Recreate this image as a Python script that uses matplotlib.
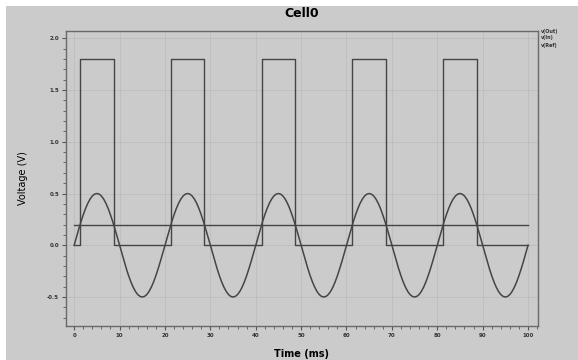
import numpy as np
import matplotlib
matplotlib.use('Agg')
from matplotlib import pyplot as plt
from matplotlib.patches import Rectangle
from matplotlib.ticker import MultipleLocator, FormatStrFormatter

# input sine, one 20 ms period sampled every 0.5 ms (V); it repeats 5 times
period_in = [
    0.000, 0.078, 0.155, 0.227, 0.294, 0.354, 0.405, 0.446, 0.476, 0.494,
    0.500, 0.494, 0.476, 0.446, 0.405, 0.354, 0.294, 0.227, 0.155, 0.078,
    0.000, -0.078, -0.155, -0.227, -0.294, -0.354, -0.405, -0.446, -0.476, -0.494,
    -0.500, -0.494, -0.476, -0.446, -0.405, -0.354, -0.294, -0.227, -0.155, -0.078,
]
v_in = period_in * 5 + [0.0]
t_in = np.arange(len(v_in)) * 0.5

# comparator output: edges of the 1.8 V pulses (ms)
rise_times = [1.3, 21.3, 41.3, 61.3, 81.3]
fall_times = [8.7, 28.7, 48.7, 68.7, 88.7]
v_high = 1.8
v_low = 0.0

# reference level
t_ref = [0, 100]
v_ref = [0.2, 0.2]

legend_labels = ['v(Out)', 'v(In)', 'v(Ref)']

# build step trace for the output
t_out = [0]
v_out = [v_low]
for r, f in zip(rise_times, fall_times):
    t_out += [r, r, f, f]
    v_out += [v_low, v_high, v_high, v_low]
t_out.append(100)
v_out.append(v_low)

bg = '#cbcbcb'
line_c = '#454545'

fig = plt.figure(figsize=(5.78, 3.6), dpi=100, facecolor=bg)
# thin white strips on the top and left edges
fig.patches.append(Rectangle((0, 354 / 360), 1, 6 / 360, transform=fig.transFigure,
                             facecolor='white', edgecolor='none', zorder=-10))
fig.patches.append(Rectangle((0, 0), 6 / 578, 1, transform=fig.transFigure,
                             facecolor='white', edgecolor='none', zorder=-10))

ax = fig.add_axes([66 / 578, 34 / 360, 472 / 578, 295 / 360])
ax.set_facecolor(bg)

ax.plot(t_out, v_out, color=line_c, lw=1.0)
ax.plot(t_in, v_in, color=line_c, lw=1.1)
ax.plot(t_ref, v_ref, color=line_c, lw=1.0)

ax.set_xlim(-1.8, 102.2)
ax.set_ylim(-0.78, 2.07)

ax.xaxis.set_major_locator(MultipleLocator(10))
ax.xaxis.set_minor_locator(MultipleLocator(2))
ax.yaxis.set_major_locator(MultipleLocator(0.5))
ax.yaxis.set_minor_locator(MultipleLocator(0.1))
ax.yaxis.set_major_formatter(FormatStrFormatter('%.1f'))

ax.tick_params(which='major', length=3, width=0.8, color='#555555',
               labelsize=4, pad=2)
ax.tick_params(which='minor', length=2, width=0.6, color='#555555')
for lab in ax.get_xticklabels() + ax.get_yticklabels():
    lab.set_fontweight('bold')
    lab.set_color('#333333')

ax.grid(True, which='major', color='#bdbdbd', lw=0.6)

for side in ['top', 'right', 'left', 'bottom']:
    ax.spines[side].set_color('#6a6a6a')
    ax.spines[side].set_linewidth(1.0)

ax.set_title('Cell0', fontsize=9, fontweight='bold', pad=10)
ax.set_xlabel('Time (ms)', fontsize=7, fontweight='bold', labelpad=8)
ax.set_ylabel('Voltage (V)', fontsize=7, labelpad=14)

for i, lab in enumerate(legend_labels):
    fig.text(541 / 578, 1 - (31 + i * 7) / 360, lab, fontsize=3.5,
             fontweight='bold', color='#333333', va='center', ha='left')

fig.savefig('out.png', dpi=100, facecolor=fig.get_facecolor())
